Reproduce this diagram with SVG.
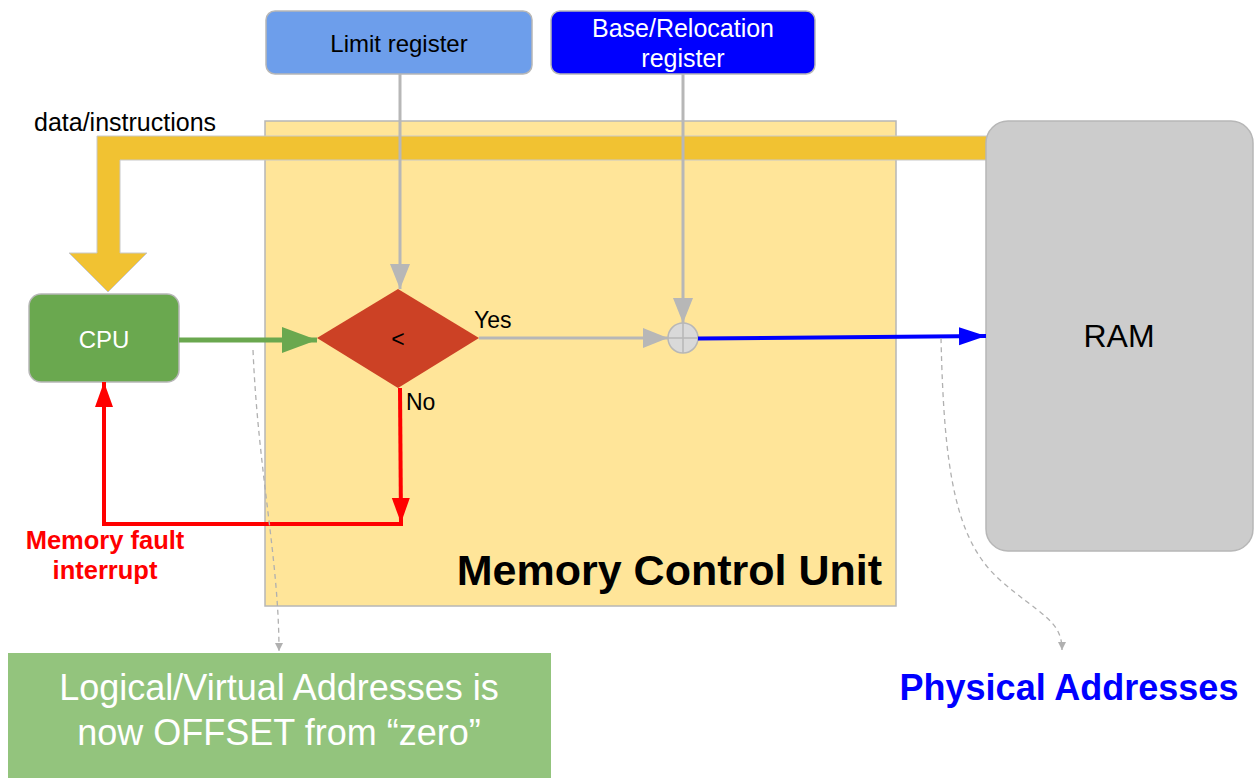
<svg xmlns="http://www.w3.org/2000/svg" width="1259" height="778" viewBox="0 0 1259 778">
<style>
text{font-family:"Liberation Sans",Arial,sans-serif}
.g{stroke:#b7b7b7;stroke-width:3;fill:none}
.dash{stroke:#b0b0b0;stroke-width:1.3;fill:none;stroke-dasharray:5 4}
</style>
<defs>
<marker id="ag" markerUnits="userSpaceOnUse" markerWidth="26" markerHeight="22" refX="25" refY="11" orient="auto"><path d="M0,1 L25,11 L0,21 Z" fill="#b7b7b7"/></marker>
<marker id="agr" markerUnits="userSpaceOnUse" markerWidth="36" markerHeight="28" refX="35" refY="14" orient="auto"><path d="M0,1 L35,14 L0,27 Z" fill="#6aa84f"/></marker>
<marker id="ar" markerUnits="userSpaceOnUse" markerWidth="26" markerHeight="20" refX="25" refY="10" orient="auto"><path d="M0,1 L25,10 L0,19 Z" fill="#ff0000"/></marker>
<marker id="ab" markerUnits="userSpaceOnUse" markerWidth="28" markerHeight="20" refX="27" refY="10" orient="auto"><path d="M0,1 L27,10 L0,19 Z" fill="#0000ff"/></marker>
<marker id="ad" markerUnits="userSpaceOnUse" markerWidth="10" markerHeight="10" refX="8" refY="4" orient="auto"><path d="M0,0 L8,4 L0,8 Z" fill="#b0b0b0"/></marker>
</defs>

<g id="mcu">
<rect x="265" y="121" width="631" height="485" fill="#ffe599" stroke="#b7b7b7" stroke-width="1.5"/>
<text x="882" y="585" font-size="43" font-weight="bold" text-anchor="end" fill="#000">Memory Control Unit</text>
</g>

<g id="data-bus">
<polygon points="987,136 97,136 97,253 69,253 108,292 147,253 120,253 120,160 987,160" fill="#f1c232" stroke="#c8c8c8" stroke-width="1"/>
<text x="34" y="131" font-size="25" fill="#000">data/instructions</text>
</g>

<g id="ram">
<rect x="986" y="121" width="267" height="430" rx="22" fill="#cccccc" stroke="#b7b7b7" stroke-width="1.5"/>
<text x="1119" y="347" font-size="32" text-anchor="middle" fill="#000">RAM</text>
</g>

<g id="limit">
<rect x="266" y="11" width="266" height="63" rx="9" fill="#6d9eeb" stroke="#b7b7b7" stroke-width="1.5"/>
<text x="399" y="52" font-size="24" text-anchor="middle" fill="#000">Limit register</text>
</g>

<g id="base">
<rect x="551" y="11" width="264" height="63" rx="9" fill="#0000ff" stroke="#b7b7b7" stroke-width="1.5"/>
<text x="683" y="37" font-size="25" text-anchor="middle" fill="#fff">Base/Relocation</text>
<text x="683" y="67" font-size="25" text-anchor="middle" fill="#fff">register</text>
</g>

<g id="cpu">
<rect x="29" y="294" width="150" height="88" rx="12" fill="#6aa84f" stroke="#b7b7b7" stroke-width="1.5"/>
<text x="104" y="348" font-size="24" text-anchor="middle" fill="#fff">CPU</text>
</g>

<g id="compare">
<polygon points="398,289 479,338 398,388 317,338" fill="#cc4125"/>
<text x="398" y="347" font-size="23" text-anchor="middle" fill="#000">&lt;</text>
</g>

<g id="adder">
<circle cx="683" cy="338" r="15" fill="#d9d9d9" stroke="#b7b7b7" stroke-width="1.5"/>
<path d="M668,338 H698 M683,323 V353" stroke="#b7b7b7" stroke-width="1.5"/>
</g>

<g id="connectors">
<line class="g" x1="400" y1="74" x2="400" y2="289" marker-end="url(#ag)"/>
<line class="g" x1="683" y1="74" x2="683" y2="323" marker-end="url(#ag)"/>
<line class="g" x1="479" y1="338" x2="668" y2="338" marker-end="url(#ag)"/>
<line x1="179" y1="340" x2="317" y2="340" stroke="#6aa84f" stroke-width="5" marker-end="url(#agr)"/>
<line x1="698" y1="338.5" x2="986" y2="336" stroke="#0000ff" stroke-width="4" marker-end="url(#ab)"/>
<line x1="400" y1="388" x2="401" y2="523" stroke="#ff0000" stroke-width="4" marker-end="url(#ar)"/>
<polyline points="403,524 104,524 104,382" fill="none" stroke="#ff0000" stroke-width="4" marker-end="url(#ar)"/>
<path class="dash" d="M253,350 C258,470 279,560 279,651" marker-end="url(#ad)"/>
<path class="dash" d="M941,338 C944,470 955,540 1000,580 C1040,615 1062,620 1062,650" marker-end="url(#ad)"/>
</g>

<g id="labels">
<text x="474" y="328" font-size="23" fill="#000">Yes</text>
<text x="406" y="410" font-size="23" fill="#000">No</text>
<text x="105" y="549" font-size="25.5" font-weight="bold" text-anchor="middle" fill="#ff0000">Memory fault</text>
<text x="105" y="579" font-size="25.5" font-weight="bold" text-anchor="middle" fill="#ff0000">interrupt</text>
<text x="1069" y="700" font-size="36" font-weight="bold" text-anchor="middle" fill="#0000ff">Physical Addresses</text>
</g>

<g id="note">
<rect x="8" y="653" width="543" height="125" fill="#93c47d"/>
<text x="279" y="700" font-size="36" text-anchor="middle" fill="#fff">Logical/Virtual Addresses is</text>
<text x="279" y="745" font-size="36" text-anchor="middle" fill="#fff">now OFFSET from “zero”</text>
</g>
</svg>
